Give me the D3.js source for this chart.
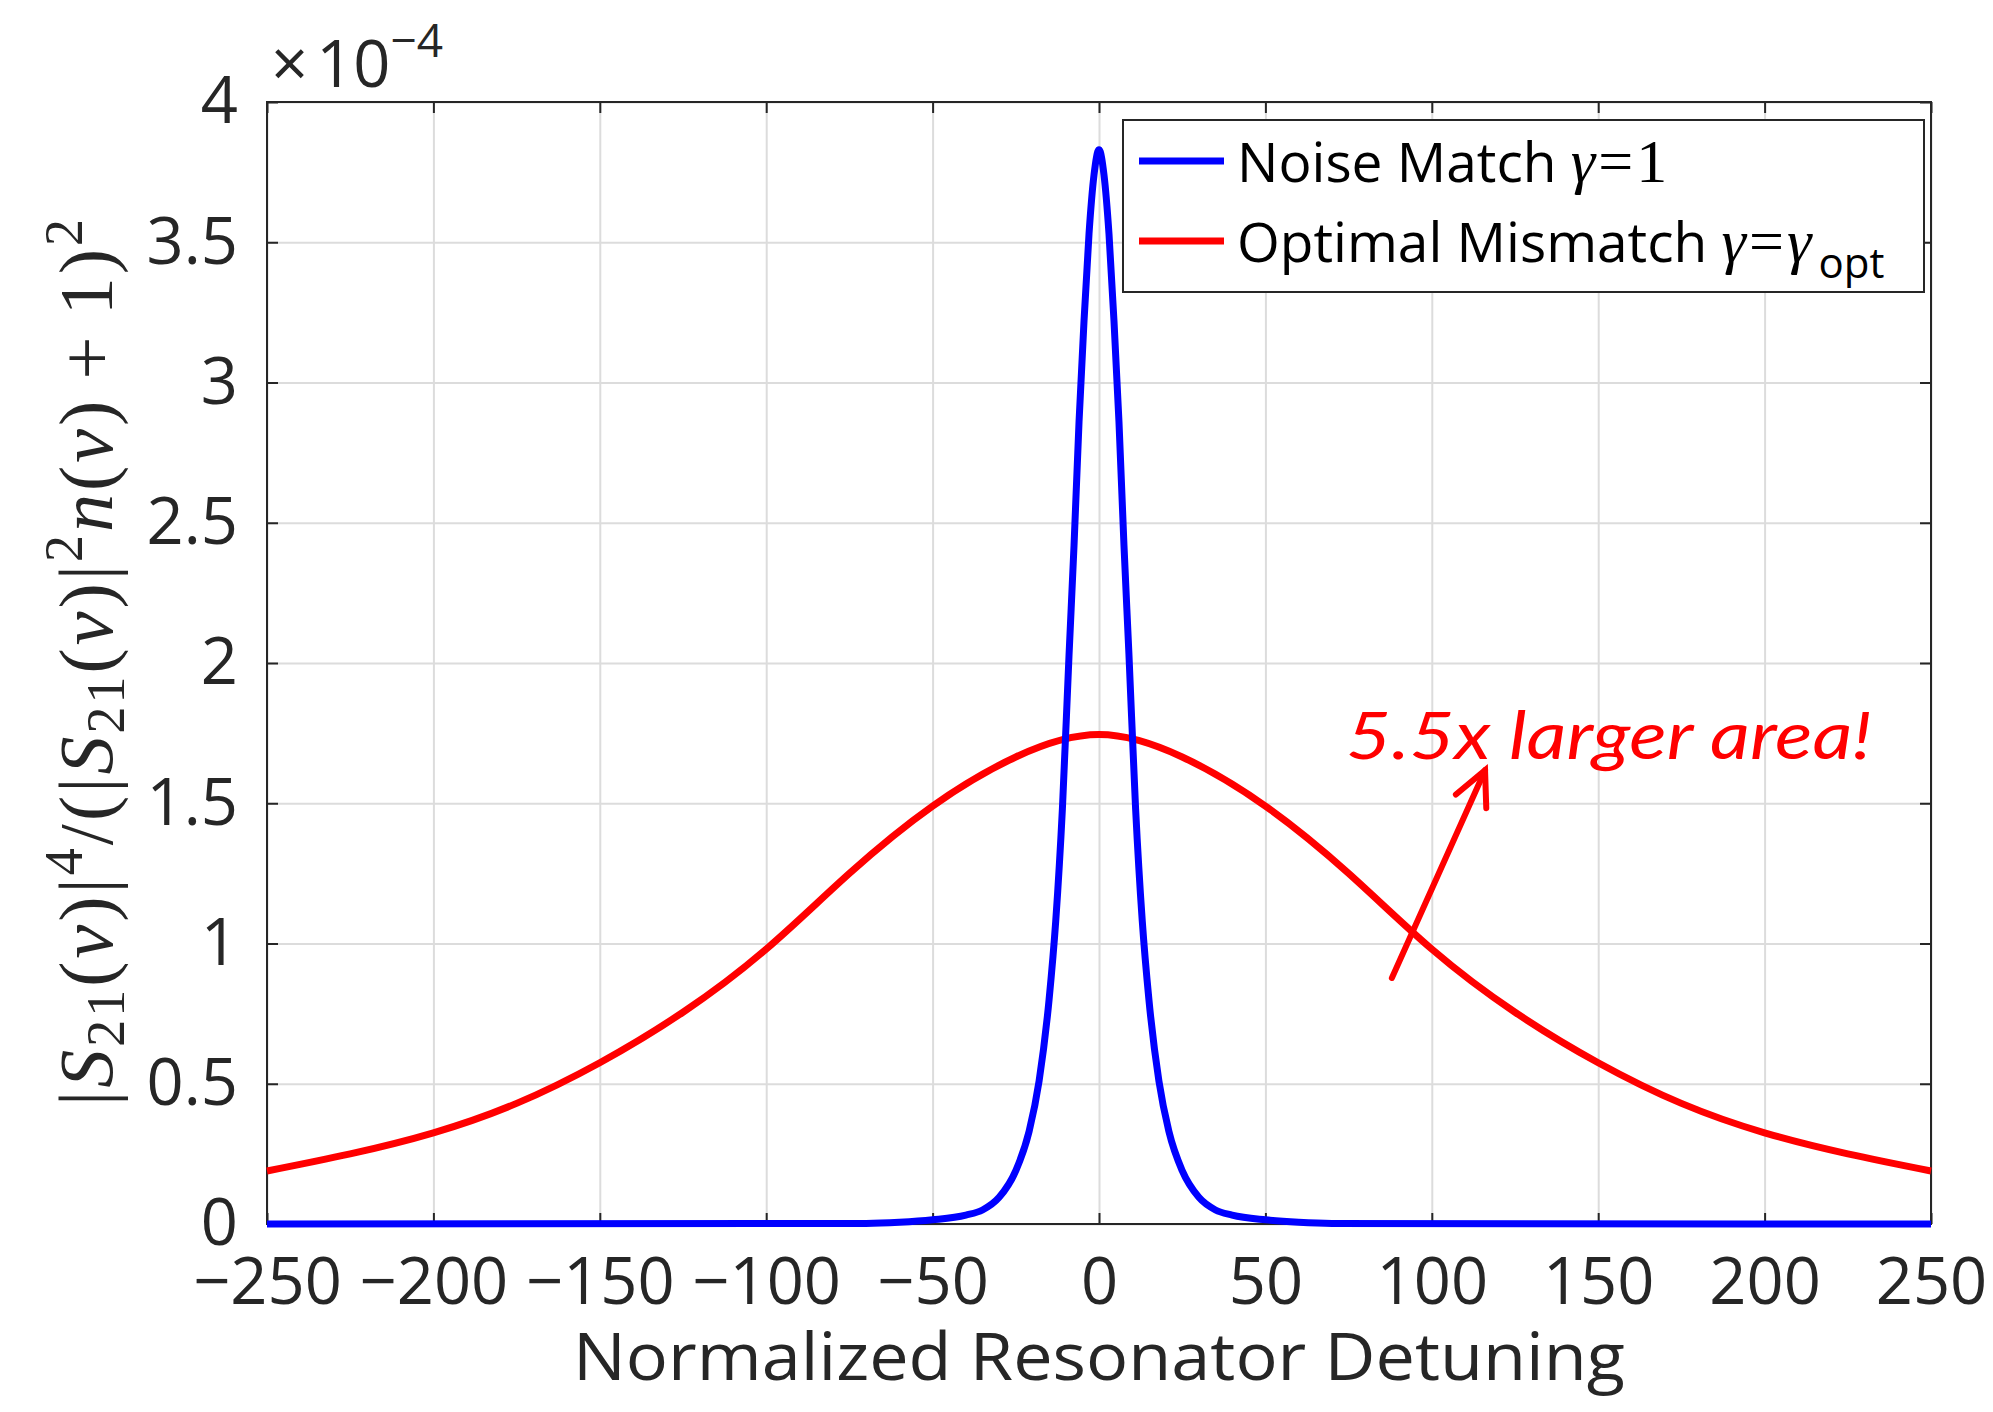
<!DOCTYPE html>
<html>
<head>
<meta charset="utf-8">
<style>
    body { margin: 0; background: #fff; }
    svg { display: block; font-family: "Open Sans", sans-serif; }
    .grid line { stroke: #dcdcdc; stroke-width: 2px; }
    .grid path { display: none; }
    .axis text { font-family: "Open Sans", sans-serif; font-size: 65px; fill: #262626; }
    .axis line { stroke: #262626; stroke-width: 2px; }
    .axis path { display: none; }
    .line { fill: none; stroke-width: 7px; stroke-linejoin: round; }
</style>
</head>
<body>
<script src="https://cdn.jsdelivr.net/npm/d3@7"></script>
<script>
// tick values
var xTicks = [-250, -200, -150, -100, -50, 0, 50, 100, 150, 200, 250];
var yTicks = [0, 0.5, 1, 1.5, 2, 2.5, 3, 3.5, 4];

// noise match, gamma = 1 (values in units of 1e-4)
var matchX = [-250, -70, -60, -50, -40, -35, -30, -25, -21, -18, -15, -13, -11, -9, -7.5, -6, -4.5, -3, -1.5, 0,
              1.5, 3, 4.5, 6, 7.5, 9, 11, 13, 15, 18, 21, 25, 30, 35, 40, 50, 60, 70, 250];
var matchY = [0, 0.002, 0.006, 0.015, 0.032, 0.05, 0.095, 0.19, 0.33, 0.51, 0.80, 1.08, 1.48, 2.03, 2.42, 2.86, 3.22, 3.53, 3.74, 3.83,
              3.74, 3.53, 3.22, 2.86, 2.42, 2.03, 1.48, 1.08, 0.80, 0.51, 0.33, 0.19, 0.095, 0.05, 0.032, 0.015, 0.006, 0.002, 0];

// optimal mismatch, gamma = gamma_opt
var mismatchX = [-250, -225, -200, -175, -150, -125, -100, -75, -50, -25, 0, 25, 50, 75, 100, 125, 150, 175, 200, 225, 250];
var mismatchY = [0.189, 0.25, 0.325, 0.43, 0.575, 0.755, 0.98, 1.25, 1.49, 1.665, 1.745, 1.665, 1.49, 1.25, 0.98, 0.755, 0.575, 0.43, 0.325, 0.25, 0.189];

// annotation (data coords)
var arrowFrom = [88, 0.877], arrowTo = [116, 1.618];
var noteAt = [74.2, 1.656];
var noteText = "5.5x larger area!";

var margin = { top: 102, right: 62, bottom: 188, left: 267 },
    width = 1993 - margin.left - margin.right,
    height = 1412 - margin.top - margin.bottom;

var x = d3.scaleLinear().domain([-250, 250]).range([0, width]);
var y = d3.scaleLinear().domain([0, 4]).range([height, 0]);

var root = d3.select("body").append("svg")
    .attr("width", 1993)
    .attr("height", 1412);
var svg = root.append("g")
    .attr("transform", "translate(" + margin.left + "," + margin.top + ")");

// grid
svg.append("g").attr("class", "grid")
    .attr("transform", "translate(0," + height + ")")
    .call(d3.axisBottom(x).tickValues(xTicks).tickSize(-height).tickFormat(""));
svg.append("g").attr("class", "grid")
    .call(d3.axisLeft(y).tickValues(yTicks).tickSize(-width).tickFormat(""));

// axes, ticks pointing inward
var fmtX = function (d) { return d < 0 ? "\u2212" + Math.abs(d) : String(d); };
svg.append("g").attr("class", "axis")
    .attr("transform", "translate(0," + height + ")")
    .call(d3.axisBottom(x).tickValues(xTicks).tickSize(-11).tickPadding(34).tickFormat(fmtX));
svg.append("g").attr("class", "axis")
    .call(d3.axisTop(x).tickValues(xTicks).tickSize(-11).tickFormat(""));
svg.append("g").attr("class", "axis")
    .call(d3.axisLeft(y).tickValues(yTicks).tickSize(-11).tickPadding(29).tickFormat(function (d) { return String(d); }));
svg.append("g").attr("class", "axis")
    .attr("transform", "translate(" + width + ",0)")
    .call(d3.axisRight(y).tickValues(yTicks).tickSize(-11).tickFormat(""));

svg.append("rect")
    .attr("width", width).attr("height", height)
    .attr("fill", "none").attr("stroke", "#262626").attr("stroke-width", 2);

// curves
var line = d3.line()
    .x(function (d) { return x(d[0]); })
    .y(function (d) { return y(d[1]); });

svg.append("path")
    .datum(d3.zip(mismatchX, mismatchY))
    .attr("class", "line")
    .attr("d", line.curve(d3.curveNatural))
    .style("stroke", "#ff0000");

svg.append("path")
    .datum(d3.zip(matchX, matchY))
    .attr("class", "line")
    .attr("d", line.curve(d3.curveMonotoneX))
    .style("stroke", "#0000ff");

// exponent label
var expo = root.append("text")
    .attr("x", 271).attr("y", 87)
    .attr("fill", "#262626")
    .style("font-size", "65px");
expo.append("tspan").text("\u00d7");
expo.append("tspan").attr("dx", 8).text("10");
expo.append("tspan").attr("dy", -30).style("font-size", "46px").text("\u22124");

// x label
root.append("text")
    .attr("x", margin.left + width / 2).attr("y", 1380)
    .attr("text-anchor", "middle")
    .attr("fill", "#262626")
    .attr("textLength", 1052).attr("lengthAdjust", "spacingAndGlyphs")
    .style("font-size", "66px")
    .text("Normalized Resonator Detuning");

// y label (math)
var ylab = root.append("text")
    .attr("transform", "translate(112," + (margin.top + height / 2 - 2) + ") rotate(-90)")
    .attr("text-anchor", "middle")
    .attr("fill", "#262626")
    .style("font-family", "'Liberation Serif', 'Times New Roman', serif")
    .style("font-size", "76px")
    .style("letter-spacing", "3px");
var parts = [
    ["|", "n"], ["S", "i"], ["21", "sub"], ["(", "n"], ["\u03bd", "i"], [")|", "n"], ["4", "sup"],
    ["/(|", "n"], ["S", "i"], ["21", "sub"], ["(", "n"], ["\u03bd", "i"], [")|", "n"], ["2", "sup"],
    ["n", "i"], ["(", "n"], ["\u03bd", "i"], [")\u2009+\u20091)", "n"], ["2", "sup"]
];
var shift = 0;
parts.forEach(function (p) {
    var target = p[1] === "sub" ? 12 : p[1] === "sup" ? -30 : 0;
    var t = ylab.append("tspan").attr("dy", target - shift).text(p[0]);
    shift = target;
    if (p[1] === "i") t.style("font-style", "italic");
    if (p[1] === "sub" || p[1] === "sup") t.style("font-size", "54px");
});

// legend
var lg = svg.append("g").attr("transform", "translate(" + (width - 808) + ",18)");
lg.append("rect")
    .attr("width", 801).attr("height", 172)
    .attr("fill", "#fff").attr("stroke", "#262626").attr("stroke-width", 2);
var entries = [
    { color: "#0000ff", label: "Noise Match", math: [["\u03b3", "i"], ["=1", "n"]] },
    { color: "#ff0000", label: "Optimal Mismatch", math: [["\u03b3", "i"], ["=", "n"], ["\u03b3", "i"], ["opt", "sub"]] }
];
entries.forEach(function (e, i) {
    var cy = 41 + i * 80;
    lg.append("line")
        .attr("x1", 16).attr("x2", 101).attr("y1", cy).attr("y2", cy)
        .attr("stroke", e.color).attr("stroke-width", 7);
    var t = lg.append("text")
        .attr("x", 114).attr("y", cy + 21)
        .attr("fill", "#000")
        .style("font-size", "55px");
    t.append("tspan").text(e.label + " ");
    var sh = 0;
    e.math.forEach(function (m) {
        var s = t.append("tspan");
        if (m[1] === "sub") {
            s.attr("dy", 16 - sh).attr("dx", 4).style("font-size", "42px").text(m[0]);
            sh = 16;
        } else {
            s.attr("dy", -sh).style("font-family", "'Liberation Serif', serif")
                .style("font-size", "62px").style("letter-spacing", "3px").text(m[0]);
            sh = 0;
            if (m[1] === "i") s.style("font-style", "italic");
        }
    });
});

// annotation arrow
var ax0 = x(arrowFrom[0]), ay0 = y(arrowFrom[1]),
    ax1 = x(arrowTo[0]), ay1 = y(arrowTo[1]);
var ang = Math.atan2(ay0 - ay1, ax0 - ax1), headLen = 38, spread = 26 * Math.PI / 180;
var arrow = svg.append("g")
    .attr("stroke", "#ff0000").attr("stroke-width", 6)
    .attr("fill", "none").attr("stroke-linecap", "round");
arrow.append("line").attr("x1", ax0).attr("y1", ay0).attr("x2", ax1).attr("y2", ay1);
arrow.append("path")
    .attr("stroke-linejoin", "miter")
    .attr("d", "M" + (ax1 + headLen * Math.cos(ang + spread)) + "," + (ay1 + headLen * Math.sin(ang + spread)) +
               "L" + ax1 + "," + ay1 +
               "L" + (ax1 + headLen * Math.cos(ang - spread)) + "," + (ay1 + headLen * Math.sin(ang - spread)));

svg.append("text")
    .attr("x", x(noteAt[0])).attr("y", y(noteAt[1]))
    .attr("fill", "#ff0000")
    .attr("textLength", 526).attr("lengthAdjust", "spacingAndGlyphs")
    .style("font-family", "Lato, 'Open Sans', sans-serif")
    .style("font-style", "italic")
    .style("font-size", "66px")
    .text(noteText);
</script>
</body>
</html>
